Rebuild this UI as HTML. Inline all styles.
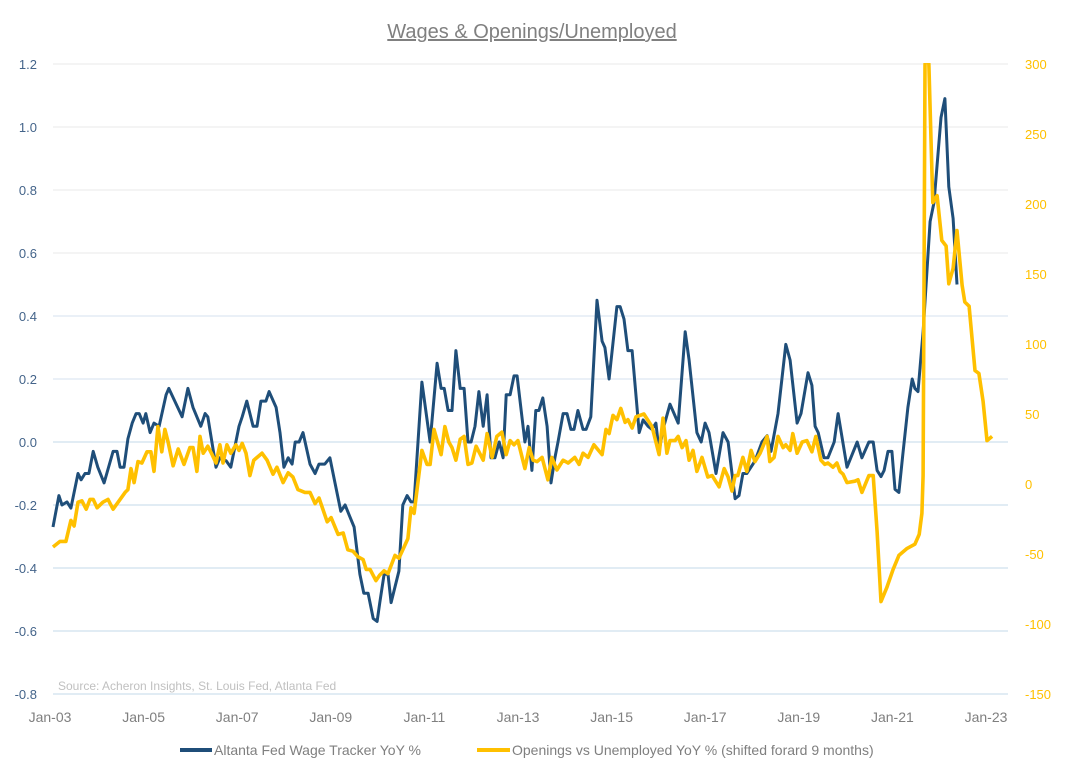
<!DOCTYPE html>
<html><head><meta charset="utf-8"><style>
html,body{margin:0;padding:0;background:#fff;width:1067px;height:780px;overflow:hidden;font-family:"Liberation Sans",sans-serif}
</style></head><body>
<svg id="chart" width="1067" height="780" xmlns="http://www.w3.org/2000/svg">
<text x="532" y="38" text-anchor="middle" font-size="20" fill="#808080" text-decoration="underline">Wages &amp; Openings/Unemployed</text>
<g id="grid"></g>
<g id="laxis"></g>
<g id="raxis"></g>
<g id="xaxis"></g>
<text x="58" y="690" font-size="12" fill="#c0c0c0">Source: Acheron Insights, St. Louis Fed, Atlanta Fed</text>
<defs><clipPath id="pc"><rect x="40" y="63" width="980" height="640"/></clipPath></defs>
<g id="series" clip-path="url(#pc)"></g>
<g>
<g><line x1="180" y1="750" x2="212" y2="750" stroke="#1f4e79" stroke-width="4"/><text x="214" y="755" font-size="14" fill="#7f7f7f">Altanta Fed Wage Tracker YoY %</text></g>
<g><line x1="477" y1="750" x2="510" y2="750" stroke="#ffc000" stroke-width="4"/><text x="512" y="755" font-size="14" fill="#7f7f7f">Openings vs Unemployed YoY % (shifted forard 9 months)</text></g>
</g>
</svg>
<script>
const leftTicks=[1.2,1.0,0.8,0.6,0.4,0.2,0.0,-0.2,-0.4,-0.6,-0.8];
const leftLabels=["1.2","1.0","0.8","0.6","0.4","0.2","0.0","-0.2","-0.4","-0.6","-0.8"];
const rightTicks=[300,250,200,150,100,50,0,-50,-100,-150];
const xTickMonths=[0,24,48,72,96,120,144,168,192,216,240];
const xTickLabels=["Jan-03","Jan-05","Jan-07","Jan-09","Jan-11","Jan-13","Jan-15","Jan-17","Jan-19","Jan-21","Jan-23"];
// months since Jan-03
const wageMonths=[0,1.5,2.3,3.6,4.6,6.4,7.2,8.2,9.2,10.3,11.5,13.1,15.4,16.4,17.2,18.2,19.2,20.3,21.3,22.1,23.1,23.8,24.9,25.9,27.2,29.0,29.7,33.1,34.6,35.9,37.9,39.0,39.7,41.8,42.8,44.4,45.6,47.7,48.5,49.7,51.3,52.3,53.3,54.6,55.4,57.2,58.2,59.2,60.3,61.3,62.1,63.1,64.1,65.9,67.2,68.2,69.7,71.0,72.3,73.8,74.9,76.2,77.2,78.7,79.7,80.8,82.1,83.1,83.8,84.9,85.9,86.7,88.7,89.7,90.8,91.8,92.6,94.6,96.7,98.5,99.5,100.3,101.3,102.3,103.3,104.4,105.4,106.4,107.2,108.2,109.2,110.3,111.3,112.3,113.3,114.4,115.4,116.2,117.2,118.2,119.0,121.0,121.8,122.8,123.8,124.6,125.6,126.7,127.7,128.7,129.5,130.8,131.8,132.8,133.6,134.6,135.9,136.7,137.9,139.5,140.8,141.5,142.6,144.6,145.4,146.4,147.4,148.5,150.3,151.3,152.6,153.6,154.6,155.4,156.4,158.2,160.3,162.1,163.1,165.1,166.2,167.2,168.2,170.0,171.8,173.1,174.9,175.9,176.9,177.9,180.0,181.8,183.1,184.1,185.9,187.9,189.0,190.8,191.8,193.6,194.6,195.4,196.2,197.7,198.7,200.3,201.3,203.6,206.2,207.4,209.2,210.3,211.3,212.3,213.1,214.1,215.1,215.9,216.9,217.9,219.2,220.3,221.0,221.8,223.1,224.9,225.9,227.7,228.7,229.7,230.8,231.8];
const wageValues=[-0.27,-0.17,-0.20,-0.19,-0.21,-0.10,-0.12,-0.10,-0.10,-0.03,-0.08,-0.13,-0.03,-0.03,-0.08,-0.08,0.01,0.06,0.09,0.09,0.06,0.09,0.03,0.06,0.05,0.15,0.17,0.08,0.17,0.11,0.05,0.09,0.08,-0.08,-0.05,-0.06,-0.08,0.05,0.08,0.13,0.05,0.05,0.13,0.13,0.16,0.11,0.03,-0.08,-0.05,-0.07,0.00,0.00,0.03,-0.07,-0.10,-0.07,-0.07,-0.05,-0.13,-0.22,-0.20,-0.24,-0.27,-0.42,-0.48,-0.48,-0.56,-0.57,-0.51,-0.42,-0.42,-0.51,-0.41,-0.20,-0.17,-0.19,-0.19,0.19,0.00,0.25,0.17,0.17,0.10,0.10,0.29,0.17,0.17,0.00,0.00,0.05,0.16,0.05,0.15,-0.05,-0.05,0.00,-0.05,0.15,0.15,0.21,0.21,0.00,0.05,-0.09,0.10,0.10,0.14,0.05,-0.13,-0.05,0.00,0.09,0.09,0.04,0.04,0.10,0.04,0.04,0.08,0.45,0.32,0.30,0.20,0.43,0.43,0.39,0.29,0.29,0.03,0.07,0.05,0.04,0.06,-0.03,0.04,0.12,0.06,0.35,0.26,0.03,0.00,0.06,0.03,-0.10,0.03,0.00,-0.18,-0.17,-0.10,-0.10,-0.06,0.00,0.02,-0.03,0.09,0.31,0.26,0.06,0.09,0.22,0.18,0.05,0.03,-0.05,-0.05,0.00,0.09,-0.08,0.00,-0.05,0.00,0.00,-0.09,-0.11,-0.09,-0.03,-0.03,-0.15,-0.16,-0.04,0.11,0.20,0.17,0.16,0.35,0.70,0.76,1.03,1.09,0.81,0.71,0.50];
const openMonths=[0,1.8,3.3,4.6,5.4,6.4,7.4,8.5,9.5,10.3,11.3,12.8,14.1,15.4,18.5,19.2,20.0,20.8,21.8,22.8,24.1,25.1,25.9,26.9,27.9,28.7,29.5,30.8,32.1,33.6,35.1,35.9,36.9,37.7,38.5,39.7,40.8,41.8,42.8,43.6,44.6,45.6,46.9,47.7,48.5,49.5,50.5,51.5,53.6,54.9,56.4,57.4,59.0,60.3,61.5,62.8,64.6,65.9,67.2,68.2,70.3,71.3,73.1,74.4,75.6,76.9,78.2,79.5,80.3,81.3,82.8,83.8,84.9,85.9,87.7,88.7,91.0,91.8,92.6,94.6,95.9,96.7,97.7,99.5,100.5,101.5,102.3,103.3,104.4,105.4,106.4,107.4,108.5,110.3,111.3,112.6,113.8,115.1,116.2,117.2,118.2,119.2,121.0,122.1,123.1,124.1,125.4,126.9,127.9,129.2,130.8,132.1,133.8,134.9,135.9,137.2,138.7,140.8,141.8,142.6,143.6,144.6,145.6,146.7,147.4,148.5,149.5,151.5,153.6,155.4,156.4,157.4,158.2,159.5,160.3,161.3,162.3,163.1,164.1,165.1,166.4,167.9,169.0,170.8,172.1,173.1,174.1,174.9,175.6,176.9,177.9,179.0,180.0,181.3,183.1,183.8,184.9,185.9,187.2,187.9,189.0,189.7,190.8,192.1,193.3,194.6,195.6,196.9,197.9,198.7,200.0,201.0,201.8,202.6,203.6,205.6,206.4,207.4,209.2,210.3,211.3,212.3,213.8,215.4,216.9,219.0,221.0,222.1,222.8,223.1,223.3,223.6,224.1,224.6,225.6,226.7,227.9,229.0,229.7,230.8,231.8,233.1,233.8,234.9,236.4,237.4,238.5,239.5,240.8];
const openValues=[-45,-41,-41,-26,-30,-13,-12,-18,-11,-11,-17,-13,-11,-18,-6,-4,11,1,16,15,23,23,9,41,23,39,30,13,25,14,26,26,9,34,22,27,21,15,28,15,28,22,28,24,29,22,6,17,22,17,7,12,1,8,5,-4,-6,-6,-14,-10,-27,-24,-36,-35,-47,-48,-52,-54,-61,-61,-69,-65,-62,-64,-51,-53,-39,-17,-21,24,14,14,39,21,41,30,26,17,32,34,14,15,27,17,36,19,34,37,21,31,28,31,11,26,17,16,19,3,19,10,17,15,19,14,22,19,28,21,39,36,49,46,54,44,46,40,48,50,41,21,47,22,31,31,34,26,31,17,24,9,19,5,6,-2,11,5,-5,6,6,19,9,24,16,22,34,16,19,34,26,28,24,36,22,30,31,23,34,17,14,15,12,15,9,7,1,2,3,-6,6,6,-34,-84,-74,-61,-51,-46,-43,-36,-21,6,125,299,320,299,201,206,174,170,143,154,181,142,130,127,81,79,59,31,34];

const X0=53,XM=3.9;
const xs=m=>X0+m*XM;
const yl=v=>442-v*315;
const yr=v=>484-v*1.4;
const NS="http://www.w3.org/2000/svg";
function mk(tag,parent){const e=document.createElementNS(NS,tag);parent.appendChild(e);return e;}
const grid=document.getElementById('grid'),la=document.getElementById('laxis'),ra=document.getElementById('raxis'),xa=document.getElementById('xaxis'),ser=document.getElementById('series');
leftTicks.forEach((t,i)=>{
  const g=mk('line',grid);
  
  
  g.setAttribute('x1',53);g.setAttribute('x2',1008);g.setAttribute('y1',yl(t));g.setAttribute('y2',yl(t));
  g.setAttribute('stroke',t>0.5?'#eeeeee':(t>0.1?'#dde8f2':'#cfe0ee'));g.setAttribute('stroke-width','1.2');
  const tx=mk('text',la);
  
  
  tx.setAttribute('x',37);tx.setAttribute('y',yl(t)+5);tx.setAttribute('text-anchor','end');
  tx.setAttribute('font-size','13');tx.setAttribute('fill','#44648a');tx.textContent=leftLabels[i];
});
rightTicks.forEach(t=>{
  const tx=mk('text',ra);
  
  
  tx.setAttribute('x',1025);tx.setAttribute('y',yr(t)+5);
  tx.setAttribute('font-size','13');tx.setAttribute('fill','#ffc000');tx.textContent=String(t);
});
xTickMonths.forEach((m,i)=>{
  const tx=mk('text',xa);
  
  
  tx.setAttribute('x',xs(m)-3);tx.setAttribute('y',722);tx.setAttribute('text-anchor','middle');
  tx.setAttribute('font-size','14');tx.setAttribute('fill','#7f7f7f');tx.textContent=xTickLabels[i];
});
function line(ms,vs,yf,color,w,name){
  const p=mk('path',ser);
  
  
  p.setAttribute('d',ms.map((m,i)=>(i?'L':'M')+xs(m).toFixed(1)+','+yf(vs[i]).toFixed(1)).join(''));
  p.setAttribute('fill','none');p.setAttribute('stroke',color);p.setAttribute('stroke-width',w);p.setAttribute('stroke-linejoin','round');
}
line(wageMonths,wageValues,yl,'#1f4e79',3,'wage-tracker-line');
line(openMonths,openValues,yr,'#ffc000',3.6,'openings-unemployed-line');
</script>
</body></html>
